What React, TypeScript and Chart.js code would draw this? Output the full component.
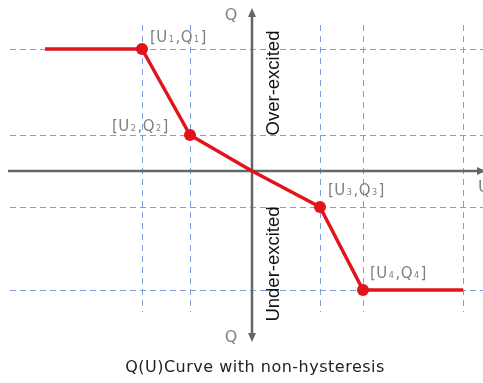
import React, { useEffect, useRef } from "react";
import { Chart, registerables } from "chart.js";

Chart.register(...registerables);

// Curve values (U in arbitrary units, Q in arbitrary units)
const curveU = [-20.7, -11.0, -6.2, 0, 6.8, 11.1, 21.1];
const curveQ = [12.2, 12.2, 3.6, 0, -3.6, -11.9, -11.9];
const markerRadius = [0, 6, 6, 0, 6, 6, 0];

// Guide lines
const gridU = [-11.0, -6.2, 6.8, 11.1, 21.1];
const gridQ = [12.2, 3.6, -3.6, -11.9];

// Point labels
const pointIndex = [1, 2, 4, 5];
const pointNames = [
  ["1", "1"],
  ["2", "2"],
  ["3", "3"],
  ["4", "4"],
];

const titleText = "Q(U)Curve with non-hysteresis";
const overText = "Over-excited";
const underText = "Under-excited";

const X_MIN = -25.2;
const X_MAX = 23.1;
const Y_MIN = -21.2;
const Y_MAX = 17.1;

const labelOffsets = [
  [8, -11],
  [-78, -8],
  [8, -16],
  [7, -16],
];

const LABEL_FONT = "'DejaVu Sans', 'Noto Sans', sans-serif";

function drawPointLabel(ctx: CanvasRenderingContext2D, x: number, y: number, sub: string[]) {
  const big = "15px " + LABEL_FONT;
  const small = "8px " + LABEL_FONT;
  const parts: [string, boolean][] = [
    ["[U", false],
    [sub[0], true],
    [",Q", false],
    [sub[1], true],
    ["]", false],
  ];
  let cx = x;
  ctx.fillStyle = "#808080";
  ctx.textBaseline = "middle";
  ctx.textAlign = "left";
  (ctx as any).letterSpacing = "0.5px";
  for (const [t, s] of parts) {
    ctx.font = s ? small : big;
    ctx.fillText(t, cx + (s ? 1 : 0), y + (s ? 2 : 0));
    cx += ctx.measureText(t).width + (s ? 2 : 0);
  }
  (ctx as any).letterSpacing = "0px";
}

const decorPlugin = {
  id: "decor",
  beforeDatasetsDraw(chart: any) {
    const { ctx, scales } = chart;
    const xs = scales.x;
    const ys = scales.y;
    ctx.save();
    // dashed grid
    ctx.strokeStyle = "#7f9fdc";
    ctx.lineWidth = 1;
    ctx.setLineDash([6, 4]);
    for (const q of gridQ) {
      const py = Math.round(ys.getPixelForValue(q)) + 0.5;
      ctx.beginPath();
      ctx.moveTo(xs.getPixelForValue(-24.2), py);
      ctx.lineTo(xs.getPixelForValue(X_MAX), py);
      ctx.stroke();
    }
    ctx.setLineDash([6, 5]);
    for (const u of gridU) {
      const px = Math.round(xs.getPixelForValue(u)) + 0.5;
      ctx.beginPath();
      ctx.moveTo(px, ys.getPixelForValue(14.6));
      ctx.lineTo(px, ys.getPixelForValue(-14.1));
      ctx.stroke();
    }
    ctx.setLineDash([]);
    // axes
    const ox = xs.getPixelForValue(0);
    const oy = ys.getPixelForValue(0);
    ctx.strokeStyle = "#666666";
    ctx.fillStyle = "#666666";
    ctx.lineWidth = 2.5;
    ctx.beginPath();
    ctx.moveTo(xs.getPixelForValue(-24.4), oy);
    ctx.lineTo(xs.getPixelForValue(X_MAX), oy);
    ctx.stroke();
    const top = ys.getPixelForValue(16.3);
    const bot = ys.getPixelForValue(-17.1);
    ctx.beginPath();
    ctx.moveTo(ox, top + 6);
    ctx.lineTo(ox, bot - 6);
    ctx.stroke();
    // arrows
    ctx.beginPath();
    ctx.moveTo(ox, top);
    ctx.lineTo(ox - 4, top + 9);
    ctx.lineTo(ox + 4, top + 9);
    ctx.closePath();
    ctx.fill();
    ctx.beginPath();
    ctx.moveTo(ox, bot);
    ctx.lineTo(ox - 4, bot - 9);
    ctx.lineTo(ox + 4, bot - 9);
    ctx.closePath();
    ctx.fill();
    const rx = xs.getPixelForValue(X_MAX) + 3;
    ctx.beginPath();
    ctx.moveTo(rx, oy);
    ctx.lineTo(rx - 9, oy - 4);
    ctx.lineTo(rx - 9, oy + 4);
    ctx.closePath();
    ctx.fill();
    // axis letters
    ctx.fillStyle = "#808080";
    ctx.font = "16px " + LABEL_FONT;
    ctx.textAlign = "center";
    ctx.textBaseline = "middle";
    ctx.fillText("Q", ox - 21, top + 8);
    ctx.fillText("Q", ox - 21, bot - 4);
    ctx.textAlign = "left";
    ctx.fillText("U", xs.getPixelForValue(X_MAX) - 5, oy + 17);
    // rotated labels
    ctx.fillStyle = "#111111";
    ctx.font = "18.5px 'Liberation Sans', Arial, sans-serif";
    ctx.textAlign = "center";
    ctx.textBaseline = "middle";
    ctx.save();
    ctx.translate(ox + 22, ys.getPixelForValue(8.8));
    ctx.rotate(-Math.PI / 2);
    ctx.fillText(overText, 0, 0);
    ctx.restore();
    ctx.save();
    ctx.translate(ox + 22, ys.getPixelForValue(-9.3));
    ctx.rotate(-Math.PI / 2);
    ctx.fillText(underText, 0, 0);
    ctx.restore();
    // title
    ctx.fillStyle = "#222222";
    ctx.font = "16px " + LABEL_FONT;
    (ctx as any).letterSpacing = "0.5px";
    ctx.fillText(titleText, ox + 3, ys.getPixelForValue(-19.7));
    (ctx as any).letterSpacing = "0px";
    ctx.restore();
  },
  afterDatasetsDraw(chart: any) {
    const { ctx, scales } = chart;
    ctx.save();
    pointIndex.forEach((idx, i) => {
      const px = scales.x.getPixelForValue(curveU[idx]);
      const py = scales.y.getPixelForValue(curveQ[idx]);
      drawPointLabel(ctx, px + labelOffsets[i][0], py + labelOffsets[i][1], pointNames[i]);
    });
    ctx.restore();
  },
};

export default function App() {
  const ref = useRef<HTMLCanvasElement | null>(null);
  useEffect(() => {
    if (!ref.current) return;
    const chart = new Chart(ref.current, {
      type: "scatter",
      data: {
        datasets: [
          {
            data: curveU.map((u, i) => ({ x: u, y: curveQ[i] })),
            showLine: true,
            borderColor: "#e3131b",
            backgroundColor: "#e3131b",
            borderWidth: 3.5,
            pointRadius: markerRadius,
            pointHoverRadius: markerRadius,
            pointBorderWidth: 0,
            borderJoinStyle: "round",
          } as any,
        ],
      },
      options: {
        animation: false,
        responsive: false,
        maintainAspectRatio: false,
        layout: { padding: 0 },
        plugins: { legend: { display: false }, tooltip: { enabled: false }, title: { display: false } },
        events: [],
        scales: {
          x: { type: "linear", display: false, min: X_MIN, max: X_MAX },
          y: { type: "linear", display: false, min: Y_MIN, max: Y_MAX },
        },
      },
      plugins: [decorPlugin],
    });
    return () => chart.destroy();
  }, []);
  return (
    <div style={{ position: "absolute", left: 0, top: 0, width: 483, height: 383, background: "#fff" }}>
      <canvas ref={ref} width={483} height={383} style={{ width: 483, height: 383 }} />
    </div>
  );
}
